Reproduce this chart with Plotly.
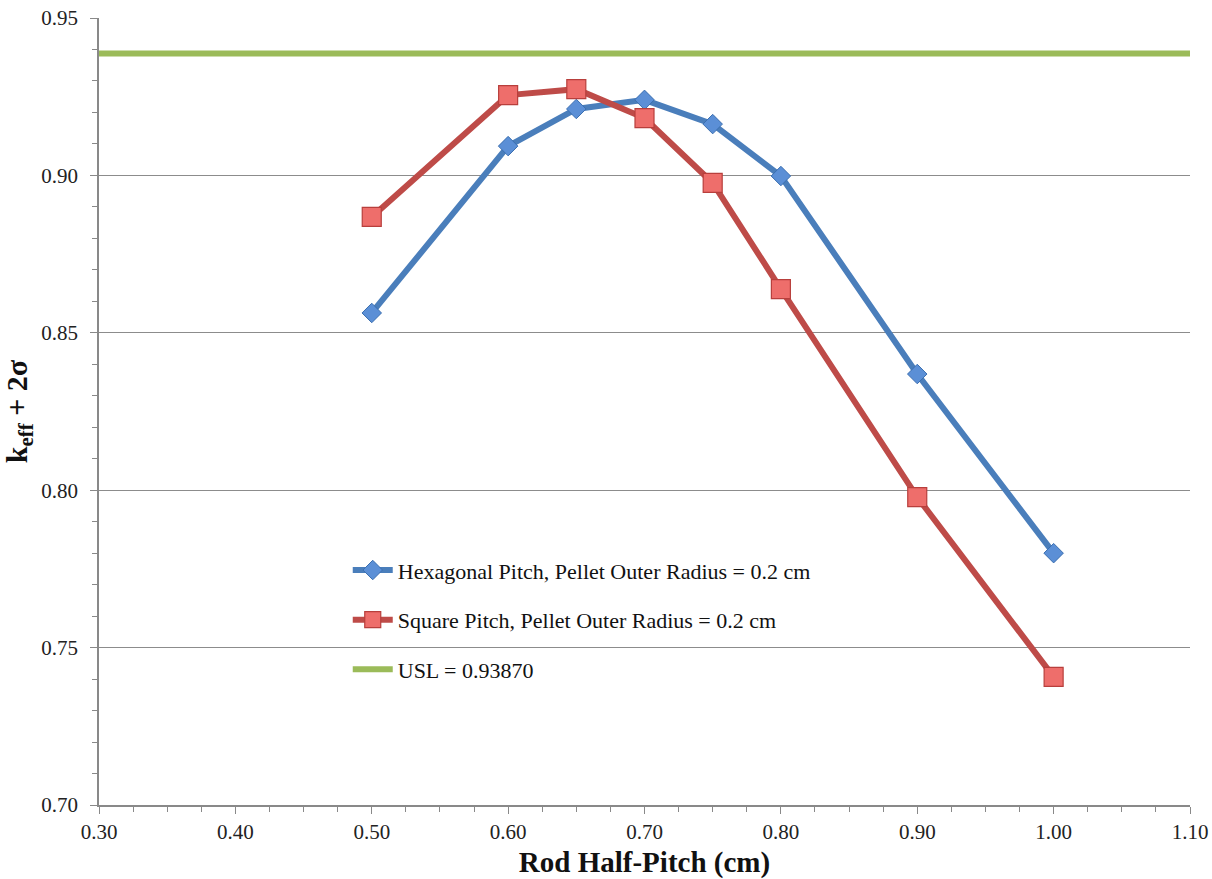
import plotly.graph_objects as go

x_vals = [0.50, 0.60, 0.65, 0.70, 0.75, 0.80, 0.90, 1.00]
hex_vals = [0.8563, 0.9093, 0.9211, 0.9240, 0.9163, 0.8998, 0.8369, 0.7800]
sq_vals = [0.8868, 0.9255, 0.9274, 0.9182, 0.8976, 0.8639, 0.7978, 0.7407]
usl_x = [0.30, 1.10]
usl_val = 0.93870

hex_name = "Hexagonal Pitch, Pellet Outer Radius = 0.2 cm"
sq_name = "Square Pitch, Pellet Outer Radius = 0.2 cm"
usl_name = "USL = 0.93870"

font_family = "Liberation Serif, Times New Roman, serif"

fig = go.Figure()
fig.add_trace(go.Scatter(
    x=x_vals, y=hex_vals, mode="lines+markers", name=hex_name, legendgroup="a",
    line=dict(color="#4A7EBB", width=6),
    marker=dict(symbol="diamond", size=15, color="#5B8FD6", line=dict(color="#3B6FB0", width=1)),
))
fig.add_trace(go.Scatter(
    x=x_vals, y=sq_vals, mode="lines+markers", name=sq_name, legendgroup="b",
    line=dict(color="#BE4B48", width=6),
    marker=dict(symbol="square", size=19, color="#EE6E6B", line=dict(color="#B83F3C", width=1.2)),
))
fig.add_trace(go.Scatter(
    x=usl_x, y=[usl_val, usl_val], mode="lines", name=usl_name, legendgroup="c",
    line=dict(color="#9BBB59", width=6),
))

fig.update_layout(
    width=1212, height=879,
    margin=dict(l=99, r=22, t=18, b=74, autoexpand=False),
    paper_bgcolor="white", plot_bgcolor="white",
    font=dict(family=font_family, size=20, color="#222222"),
    showlegend=True,
    legend=dict(
        x=0.228, y=0.325, xanchor="left", yanchor="top",
        bgcolor="rgba(0,0,0,0)", font=dict(size=22, color="#111111"),
        tracegroupgap=18, itemwidth=40,
    ),
    xaxis=dict(
        range=[0.30, 1.10], dtick=0.10, tickformat=".2f",
        showgrid=False, zeroline=False, automargin=False,
        showline=True, linecolor="#898989", linewidth=1.5,
        ticks="outside", ticklen=7, tickcolor="#898989",
        minor=dict(dtick=0.025, ticks="outside", ticklen=5, tickcolor="#898989"),
        tickfont=dict(size=21, color="#222222"),
        title=dict(text="<b>Rod Half-Pitch (cm)</b>", font=dict(size=29, color="#111111"), standoff=10),
    ),
    yaxis=dict(
        range=[0.70, 0.95], dtick=0.05, tickformat=".2f",
        showgrid=True, gridcolor="#8C8C8C", gridwidth=1,
        zeroline=False, automargin=False,
        showline=True, linecolor="#898989", linewidth=1.5,
        ticks="outside", ticklen=7, tickcolor="#898989", ticklabelstandoff=8,
        minor=dict(dtick=0.01, ticks="outside", ticklen=5, tickcolor="#898989", showgrid=False),
        tickfont=dict(size=21, color="#222222"),
        title=dict(text="<b>k<sub>eff</sub> + 2σ</b>", font=dict(size=30, color="#111111"), standoff=14),
    ),
)

fig.write_html(
    "out.html",
    config={"displayModeBar": False},
    post_script="document.body.style.margin='0';document.body.style.overflow='hidden';",
)
